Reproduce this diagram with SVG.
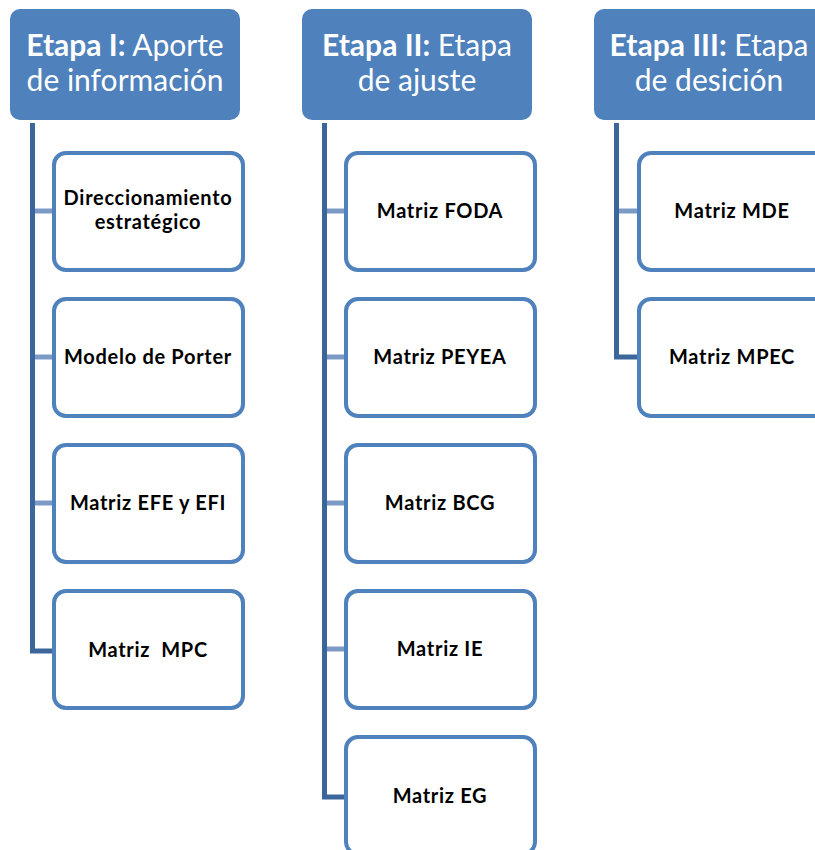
<svg xmlns="http://www.w3.org/2000/svg" width="815" height="850" viewBox="0 0 815 850">
  <style>
    .head rect { fill: #4f81bd; }
    .head text { fill: #ffffff; font-family: Lato, "Open Sans", sans-serif; font-size: 30px; text-anchor: middle; }
    .head .b { font-weight: bold; }
    .item rect { fill: #ffffff; stroke: #4f81bd; stroke-width: 4; }
    .item text { fill: #000000; font-family: Lato, "Open Sans", sans-serif; font-size: 20px; font-weight: bold; text-anchor: middle; letter-spacing: 0.7px; }
    .trunk { fill: none; stroke: #3c6699; stroke-width: 5; stroke-linejoin: miter; }
    .branch { stroke: #7b9ac6; stroke-width: 5; }
  </style>
  <rect width="815" height="850" fill="#ffffff"/>

  <!-- connectors: trunk lines ending in the last branch, plus intermediate branches -->
  <g id="connectors">
    <path class="trunk" d="M32.5 123 V651 H54"/>
    <line class="branch" x1="35" y1="211" x2="54" y2="211"/>
    <line class="branch" x1="35" y1="357" x2="54" y2="357"/>
    <line class="branch" x1="35" y1="503" x2="54" y2="503"/>

    <path class="trunk" d="M324.5 123 V797 H346"/>
    <line class="branch" x1="327" y1="211" x2="346" y2="211"/>
    <line class="branch" x1="327" y1="357" x2="346" y2="357"/>
    <line class="branch" x1="327" y1="503" x2="346" y2="503"/>
    <line class="branch" x1="327" y1="649" x2="346" y2="649"/>

    <path class="trunk" d="M616.5 123 V357 H639"/>
    <line class="branch" x1="619" y1="211" x2="639" y2="211"/>
  </g>

  <!-- column headers -->
  <g id="etapa1" class="head">
    <rect x="10" y="9" width="230" height="111" rx="10"/>
    <text x="125" y="56"><tspan class="b">Etapa I:</tspan> Aporte</text>
    <text x="125" y="91">de información</text>
  </g>
  <g id="etapa2" class="head">
    <rect x="302" y="9" width="230" height="111" rx="10"/>
    <text x="417" y="56"><tspan class="b">Etapa II:</tspan> Etapa</text>
    <text x="417" y="91">de ajuste</text>
  </g>
  <g id="etapa3" class="head">
    <rect x="594" y="9" width="230" height="111" rx="10"/>
    <text x="709" y="56"><tspan class="b">Etapa III:</tspan> Etapa</text>
    <text x="709" y="91">de desición</text>
  </g>

  <!-- Etapa I items -->
  <g id="direccionamiento" class="item">
    <rect x="54" y="153" width="189" height="117" rx="12"/>
    <text x="148" y="205">Direccionamiento</text>
    <text x="148" y="229">estratégico</text>
  </g>
  <g id="porter" class="item">
    <rect x="54" y="299" width="189" height="117" rx="12"/>
    <text x="148" y="364">Modelo de Porter</text>
  </g>
  <g id="efe-efi" class="item">
    <rect x="54" y="445" width="189" height="117" rx="12"/>
    <text x="148" y="510">Matriz EFE y EFI</text>
  </g>
  <g id="mpc" class="item">
    <rect x="54" y="591" width="189" height="117" rx="12"/>
    <text x="148" y="657" xml:space="preserve">Matriz  MPC</text>
  </g>

  <!-- Etapa II items -->
  <g id="foda" class="item">
    <rect x="346" y="153" width="189" height="117" rx="12"/>
    <text x="440" y="218">Matriz FODA</text>
  </g>
  <g id="peyea" class="item">
    <rect x="346" y="299" width="189" height="117" rx="12"/>
    <text x="440" y="364">Matriz PEYEA</text>
  </g>
  <g id="bcg" class="item">
    <rect x="346" y="445" width="189" height="117" rx="12"/>
    <text x="440" y="510">Matriz BCG</text>
  </g>
  <g id="ie" class="item">
    <rect x="346" y="591" width="189" height="117" rx="12"/>
    <text x="440" y="656">Matriz IE</text>
  </g>
  <g id="eg" class="item">
    <rect x="346" y="737" width="189" height="117" rx="12"/>
    <text x="440" y="803">Matriz EG</text>
  </g>

  <!-- Etapa III items -->
  <g id="mde" class="item">
    <rect x="639" y="153" width="189" height="117" rx="12"/>
    <text x="732" y="218">Matriz MDE</text>
  </g>
  <g id="mpec" class="item">
    <rect x="639" y="299" width="189" height="117" rx="12"/>
    <text x="732" y="364">Matriz MPEC</text>
  </g>
</svg>
